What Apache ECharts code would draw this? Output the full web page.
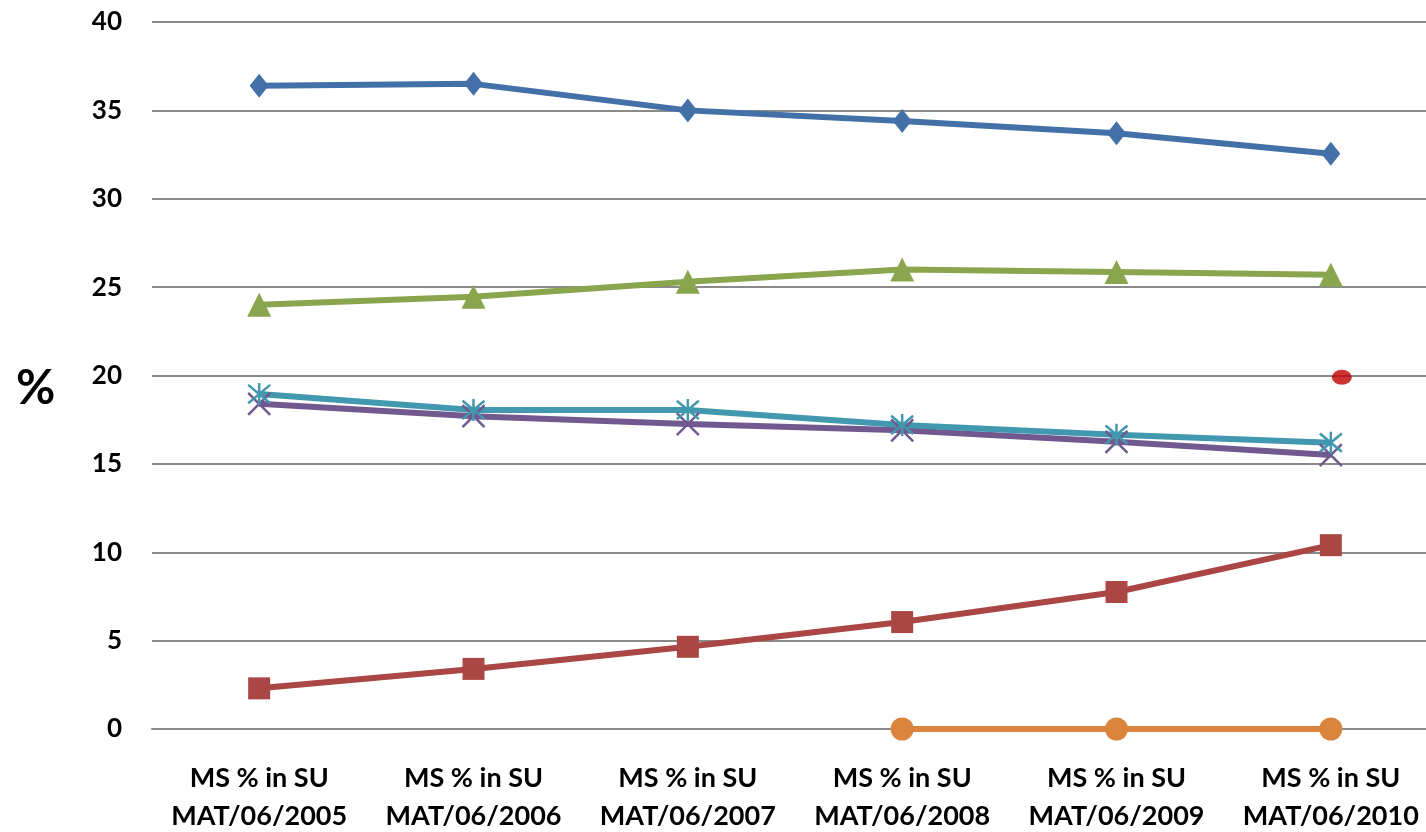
<!DOCTYPE html>
<html>
<head>
<meta charset="utf-8">
<script src="https://cdn.jsdelivr.net/npm/echarts@6/dist/echarts.min.js"></script>
<style>
  html, body { margin: 0; padding: 0; background: #ffffff; }
  #chart { width: 1426px; height: 832px; }
</style>
</head>
<body>
<div id="chart"></div>
<script>
// Category labels (two lines each)
const categories = [
  'MS % in SU\nMAT/06/2005',
  'MS % in SU\nMAT/06/2006',
  'MS % in SU\nMAT/06/2007',
  'MS % in SU\nMAT/06/2008',
  'MS % in SU\nMAT/06/2009',
  'MS % in SU\nMAT/06/2010'
];

// Market share series, %
const blueSeries   = [36.4, 36.5, 35.0, 34.4, 33.7, 32.55];
const redSeries    = [2.3, 3.4, 4.65, 6.05, 7.75, 10.4];
const greenSeries  = [24.0, 24.45, 25.3, 26.0, 25.85, 25.7];
const purpleSeries = [18.4, 17.7, 17.25, 16.9, 16.25, 15.5];
const tealSeries   = [18.95, 18.05, 18.05, 17.2, 16.65, 16.2];
const orangeSeries = [null, null, null, 0, 0, 0];
const redDot       = [null, null, null, null, null, 19.9];

// Value axis ticks
const yMin = 0, yMax = 40, yStep = 5;

const FONT = 'Lato, "Open Sans", sans-serif';

function lineSeries(name, data, color, symbol, size, extra) {
  return Object.assign({
    name: name,
    type: 'line',
    data: data,
    symbol: symbol,
    symbolSize: size,
    showSymbol: true,
    connectNulls: false,
    lineStyle: { color: color, width: 6 },
    itemStyle: { color: color },
    emphasis: { disabled: true },
    z: 3
  }, extra || {});
}

const asterisk = 'path://M0,0L10,10M10,0L0,10M5,-1L5,11';
const cross = 'path://M0,0L10,10M10,0L0,10';

const chart = echarts.init(document.getElementById('chart'));
chart.setOption({
  animation: false,
  backgroundColor: '#ffffff',
  title: {
    text: '%',
    left: 11,
    top: 360,
    textStyle: { fontFamily: FONT, fontWeight: 'bold', fontSize: 48, color: '#000' }
  },
  grid: {
    left: 152,
    right: -12,
    top: 22,
    bottom: 103,
    containLabel: false,
    outerBoundsMode: 'none'
  },
  xAxis: {
    type: 'category',
    data: categories,
    boundaryGap: true,
    axisLine: { show: true, lineStyle: { color: '#8a8a8a', width: 2 } },
    axisTick: { show: false },
    axisLabel: {
      interval: 0,
      margin: 30,
      color: '#000',
      fontFamily: FONT,
      fontWeight: 'bold',
      fontSize: 27,
      lineHeight: 38,
      align: 'center'
    },
    splitLine: { show: false }
  },
  yAxis: {
    type: 'value',
    min: yMin,
    max: yMax,
    interval: yStep,
    axisLine: { show: false },
    axisTick: { show: false },
    axisLabel: {
      margin: 30,
      color: '#000',
      fontFamily: FONT,
      fontWeight: 'bold',
      fontSize: 26
    },
    splitLine: { show: true, lineStyle: { color: '#8a8a8a', width: 2 } }
  },
  series: [
    lineSeries('blue', blueSeries, '#4470A8', 'diamond', [19, 24]),
    lineSeries('red', redSeries, '#AA4643', 'rect', 22),
    lineSeries('green', greenSeries, '#89A54E', 'triangle', 24),
    lineSeries('purple', purpleSeries, '#71588F', cross, 22, {
      itemStyle: { color: 'none', borderColor: '#71588F', borderWidth: 2.5 }
    }),
    lineSeries('teal', tealSeries, '#4198AF', asterisk, 22, {
      itemStyle: { color: 'none', borderColor: '#4198AF', borderWidth: 2.5 }
    }),
    lineSeries('orange', orangeSeries, '#DB843D', 'circle', 23),
    {
      name: 'marker',
      type: 'scatter',
      data: redDot,
      symbol: 'circle',
      symbolSize: [20, 15],
      symbolOffset: [11, 0],
      itemStyle: { color: '#C00000' },
      emphasis: { disabled: true },
      z: 4
    }
  ]
});
</script>
</body>
</html>
